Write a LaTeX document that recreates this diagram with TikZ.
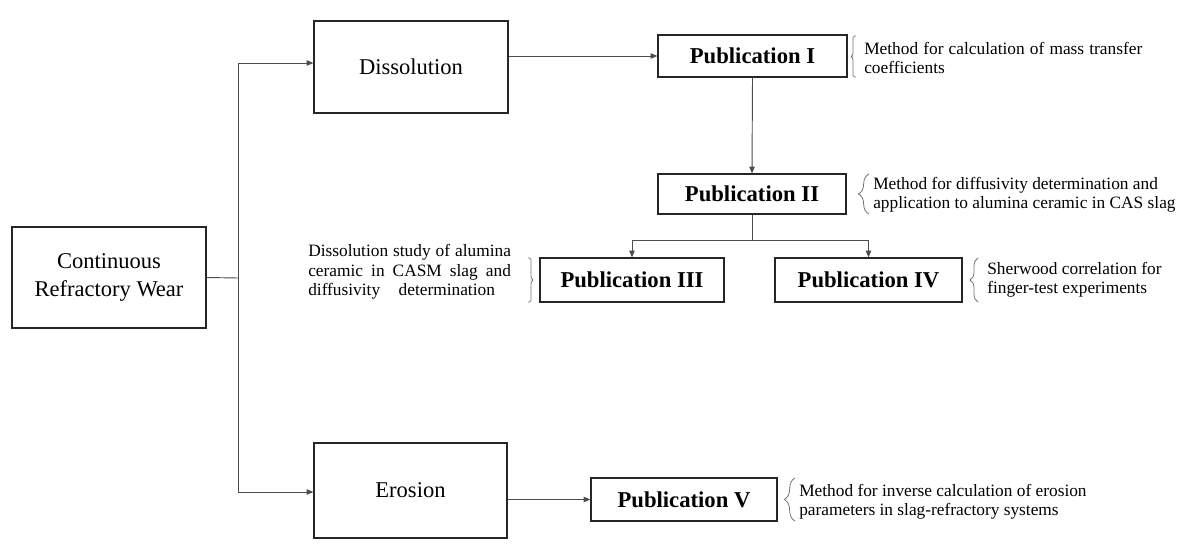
\documentclass[tikz,border=0pt]{standalone}
\usepackage{fontspec}
\setmainfont{Liberation Serif}
\usetikzlibrary{arrows.meta,decorations.pathreplacing,calc}
\begin{document}
\begin{tikzpicture}[x=0.75pt,y=-0.75pt]
\tikzset{
  mainbox/.style={draw=black!85,line width=0.9pt,inner sep=0pt,align=center,font=\fontsize{16.9}{21}\selectfont},
  pubbox/.style={draw=black!85,line width=0.9pt,inner sep=0pt,font=\fontsize{17}{20}\selectfont\bfseries},
  note/.style={inner sep=0pt,align=left,font=\fontsize{13}{14.6}\selectfont},
  conn/.style={draw=black!70,line width=0.7pt},
  arr/.style={conn,-{Triangle[length=5pt,width=4pt]}},
  brc/.style={draw=black!55,line width=0.6pt},
  brace/.style={brc,decorate,decoration={brace,amplitude=#1}}
}
\useasboundingbox (0,0) rectangle (1189,543);

% boxes
\node[mainbox,minimum width=145.5pt,minimum height=75.75pt] (crw) at (109,277.5) {Continuous\\Refractory Wear};
\node[mainbox,minimum width=145.5pt,minimum height=69pt] (diss) at (411,67) {Dissolution};
\node[mainbox,minimum width=144.75pt,minimum height=71.25pt] (eros) at (410.5,490.5) {Erosion};
\node[pubbox,minimum width=141.75pt,minimum height=31.5pt] (pubI) at (752.5,56) {Publication I};
\node[pubbox,minimum width=141pt,minimum height=30pt] (pubII) at (752,194) {Publication II};
\node[pubbox,minimum width=138pt,minimum height=33pt] (pubIII) at (632,280) {Publication III};
\node[pubbox,minimum width=140.25pt,minimum height=33pt] (pubIV) at (868.5,280) {Publication IV};
\node[pubbox,minimum width=139.5pt,minimum height=32.25pt] (pubV) at (684,499.5) {Publication V};

% connectors
\coordinate (j1) at (238,278);
\coordinate (jt) at (238,63);
\coordinate (jb) at (238,492);
\coordinate (j2) at (752,240);
\draw[conn] (crw.east) -- (j1);
\draw[conn] (jt) -- (jb);
\draw[arr] (jt) -- (jt -| diss.west);
\draw[arr] (jb) -- (jb -| eros.west);
\draw[arr] (diss.east |- pubI.west) -- (pubI.west);
\draw[arr] (pubI.south) -- (pubII.north);
\draw[conn] (pubII.south) -- (j2);
\draw[arr] (j2) -| (pubIII.north);
\draw[arr] (j2) -| (pubIV.north);
\draw[arr] (eros.east |- pubV.west) -- (pubV.west);

% brackets and braces
\draw[brc,rounded corners=1.2pt] (856,36) -- (853,36) -- (853,55) -- (851,56.5) -- (853,58) -- (853,77) -- (856,77);
\draw[brc,rounded corners=1.2pt] (528,258) -- (531,258) -- (531,278.5) -- (533.5,280) -- (531,281.5) -- (531,302) -- (528,302);
\draw[brace=8pt] (869,214) -- (869,174);
\draw[brace=6pt] (978,302) -- (978,258);
\draw[brace=8pt] (795,521) -- (795,478);

% notes
\node[note,anchor=west] (nI) at (864,58) {\makebox[208.5pt][s]{Method for calculation of mass transfer}\\coefficients};
\node[note,anchor=west] (nII) at (873,195) {Method for diffusivity determination and\\application to alumina ceramic in CAS slag};
\node[note,anchor=west] (nIII) at (308,272) {\makebox[152pt][s]{Dissolution study of alumina}\\\makebox[152pt][s]{ceramic in CASM slag and}\\\makebox[140pt][s]{diffusivity determination}};
\node[note,anchor=west] (nIV) at (987,280) {Sherwood correlation for\\finger-test experiments};
\node[note,anchor=west] (nV) at (799,502) {Method for inverse calculation of erosion\\parameters in slag-refractory systems};
\end{tikzpicture}
\end{document}
